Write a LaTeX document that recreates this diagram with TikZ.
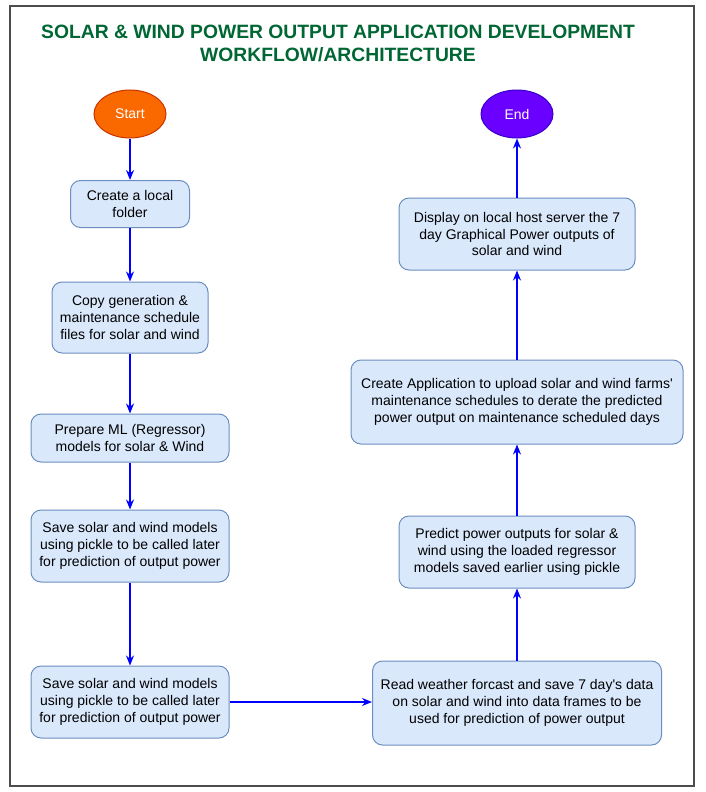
\documentclass[tikz,border=0pt]{standalone}
\usepackage{fontspec}
\setmainfont{Liberation Sans}[Ligatures=TeXOff]
\usetikzlibrary{arrows.meta,shapes.geometric}
\definecolor{boxfill}{HTML}{DAE8FC}
\definecolor{boxline}{HTML}{6C8EBF}
\definecolor{flow}{HTML}{0000FF}
\definecolor{titlegreen}{HTML}{006633}
\definecolor{startfill}{HTML}{FA6800}
\definecolor{startline}{HTML}{C73500}
\definecolor{endfill}{HTML}{6A00FF}
\definecolor{endline}{HTML}{3700CC}
\definecolor{framecol}{HTML}{4D4D4D}
\begin{document}
\begin{tikzpicture}[x=1pt,y=-1pt,
  proc/.style={draw=boxline, fill=boxfill, rounded corners=10pt, line width=1pt,
    inner sep=0pt, align=center, font=\fontsize{14}{16.7}\selectfont},
  term/.style={ellipse, minimum width=72pt, minimum height=48pt, inner sep=0pt,
    line width=1pt, text=white, font=\fontsize{14}{16.7}\selectfont},
  flowarrow/.style={draw=flow, line width=1.3pt, -{Stealth[length=10pt,width=8pt]}}]
\useasboundingbox (0,0) rectangle (706,792);
\draw[line width=1.3pt, draw=framecol] (10,6) rectangle (694,786);

\node[font=\fontsize{19.3}{23}\selectfont\bfseries, text=titlegreen, align=center]
  (title) at (338,43) {SOLAR \& WIND POWER OUTPUT APPLICATION DEVELOPMENT\\WORKFLOW/ARCHITECTURE};

\node[term, fill=startfill, draw=startline] (start) at (130,114) {Start};
\node[term, fill=endfill, draw=endline] (end) at (517,114) {End};

\node[proc, minimum width=119pt, minimum height=47pt] (folder) at (130,204)
  {Create a local\\folder};
\node[proc, minimum width=156pt, minimum height=71pt] (copy) at (130,317.5)
  {Copy generation \&\\maintenance schedule\\files for solar and wind};
\node[proc, minimum width=198pt, minimum height=48pt] (prep) at (130,438)
  {Prepare ML (Regressor)\\models for solar \& Wind};
\node[proc, minimum width=198pt, minimum height=72pt] (save1) at (130,546)
  {Save solar and wind models\\using pickle to be called later\\for prediction of output power};
\node[proc, minimum width=198pt, minimum height=72pt] (save2) at (130,702)
  {Save solar and wind models\\using pickle to be called later\\for prediction of output power};
\node[proc, minimum width=289pt, minimum height=84pt] (read) at (517,703)
  {Read weather forcast and save 7 day's data\\on solar and wind into data frames to be\\used for prediction of power output};
\node[proc, minimum width=236pt, minimum height=72pt] (predict) at (517,552)
  {Predict power outputs for solar \&\\wind using the loaded regressor\\models saved earlier using pickle};
\node[proc, minimum width=332pt, minimum height=84pt] (app) at (517,402)
  {Create Application to upload solar and wind farms'\\maintenance schedules to derate the predicted\\power output on maintenance scheduled days};
\node[proc, minimum width=236pt, minimum height=72pt] (display) at (517,234)
  {Display on local host server the 7\\day Graphical Power outputs of\\solar and wind};

\draw[flowarrow] (start) -- (folder);
\draw[flowarrow] (folder) -- (copy);
\draw[flowarrow] (copy) -- (prep);
\draw[flowarrow] (prep) -- (save1);
\draw[flowarrow] (save1) -- (save2);
\draw[flowarrow] (save2.east) -- (save2.east -| read.west);
\draw[flowarrow] (read) -- (predict);
\draw[flowarrow] (predict) -- (app);
\draw[flowarrow] (app) -- (display);
\draw[flowarrow] (display) -- (end);
\end{tikzpicture}
\end{document}
